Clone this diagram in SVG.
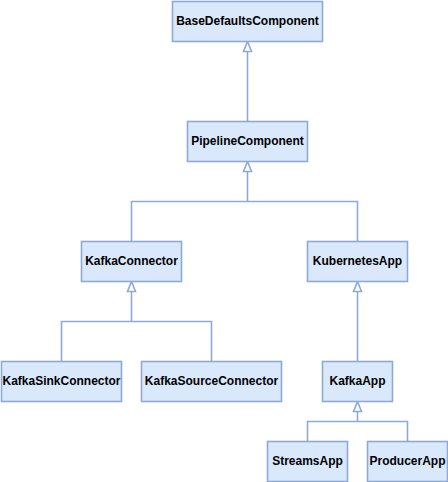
<svg xmlns="http://www.w3.org/2000/svg" width="448" height="482" viewBox="0 0 448 482">
<defs>
<style>
.box{fill:#dae8fc;stroke:#8eaad4;stroke-width:1.6}
.lbl{font-family:"Liberation Sans",Arial,sans-serif;font-size:12px;font-weight:bold;fill:#000;text-anchor:middle}
.edge{fill:none;stroke:#8eaad4;stroke-width:1.6}
.head{fill:#ffffff;stroke:#8eaad4;stroke-width:1.6}
</style>
</defs>
<rect width="448" height="482" fill="#ffffff"/>
<g id="connectors">
<path class="edge" d="M247.5,121.5 V51.5"/>
<path class="head" d="M247.5,41.5 L251.5,51.5 L243.5,51.5 Z"/>
<path class="edge" d="M131.5,241.5 V201.5 H357.5 V241.5 M247.5,201.5 V171.5"/>
<path class="head" d="M247.5,161.5 L251.5,171.5 L243.5,171.5 Z"/>
<path class="edge" d="M61.5,361.5 V321.5 H211.5 V361.5 M131.5,321.5 V291.5"/>
<path class="head" d="M131.5,281.5 L135.5,291.5 L127.5,291.5 Z"/>
<path class="edge" d="M357.5,361.5 V291.5"/>
<path class="head" d="M357.5,281.5 L361.5,291.5 L353.5,291.5 Z"/>
<path class="edge" d="M307.5,441.5 V421.5 H407.5 V441.5 M357.5,421.5 V411.5"/>
<path class="head" d="M357.5,401.5 L361.5,411.5 L353.5,411.5 Z"/>
</g>
<g id="BaseDefaultsComponent"><rect class="box" x="172.5" y="1.5" width="150" height="40"/><text class="lbl" x="247.5" y="25">BaseDefaultsComponent</text></g>
<g id="PipelineComponent"><rect class="box" x="187.5" y="121.5" width="120" height="40"/><text class="lbl" x="247.5" y="145">PipelineComponent</text></g>
<g id="KafkaConnector"><rect class="box" x="81.5" y="241.5" width="100" height="40"/><text class="lbl" x="131.5" y="265">KafkaConnector</text></g>
<g id="KubernetesApp"><rect class="box" x="307.5" y="241.5" width="100" height="40"/><text class="lbl" x="357.5" y="265">KubernetesApp</text></g>
<g id="KafkaSinkConnector"><rect class="box" x="1.5" y="361.5" width="120" height="40"/><text class="lbl" x="61.5" y="385">KafkaSinkConnector</text></g>
<g id="KafkaSourceConnector"><rect class="box" x="141.5" y="361.5" width="140" height="40"/><text class="lbl" x="211.5" y="385">KafkaSourceConnector</text></g>
<g id="KafkaApp"><rect class="box" x="322.5" y="361.5" width="70" height="40"/><text class="lbl" x="357.5" y="385">KafkaApp</text></g>
<g id="StreamsApp"><rect class="box" x="267.5" y="441.5" width="80" height="40"/><text class="lbl" x="307.5" y="465">StreamsApp</text></g>
<g id="ProducerApp"><rect class="box" x="367.5" y="441.5" width="80" height="40"/><text class="lbl" x="407.5" y="465">ProducerApp</text></g>
</svg>
